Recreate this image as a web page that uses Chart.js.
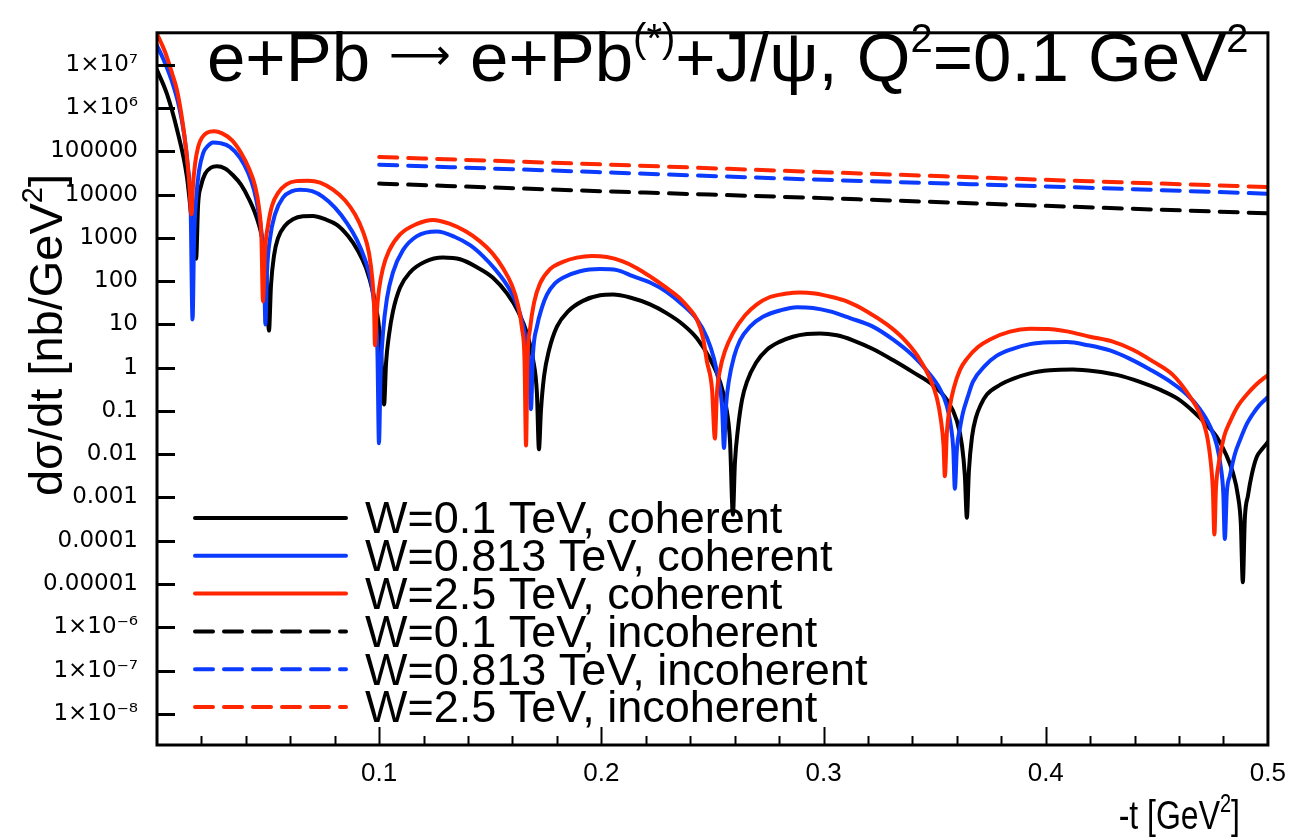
<!DOCTYPE html>
<html lang="en">
<head>
  <meta charset="UTF-8">
  <title>e+Pb → e+Pb(*)+J/ψ, Q2=0.1 GeV2</title>
  <script src="https://cdn.jsdelivr.net/npm/chart.js"></script>
  <style>
    html, body { margin: 0; padding: 0; background: #fff; }
    #wrap { width: 1299px; height: 840px; }
  </style>
</head>
<body>
<div id="wrap"><canvas id="plot"></canvas></div>
<script>
// -t [GeV^2] and dsigma/dt [nb/GeV^2]

// W = 0.1 TeV, coherent
const tBlackCoh = [0, 0.0045, 0.009, 0.0135, 0.0162, 0.0176, 0.0185, 0.0198, 0.0216, 0.0243,
  0.027, 0.0306, 0.0342, 0.0378, 0.0414, 0.0446, 0.0473, 0.0491, 0.0504, 0.0513,
  0.0527, 0.0545, 0.0576, 0.0612, 0.0657, 0.0702, 0.0756, 0.081, 0.086, 0.0905,
  0.0941, 0.0972, 0.0995, 0.1008, 0.1022, 0.1031, 0.1044, 0.1062, 0.1094, 0.1139,
  0.1206, 0.1287, 0.1364, 0.144, 0.1512, 0.1575, 0.1625, 0.1665, 0.1692, 0.171,
  0.1719, 0.1728, 0.1742, 0.1764, 0.18, 0.185, 0.1917, 0.1994, 0.2052, 0.2129,
  0.2219, 0.2295, 0.2367, 0.243, 0.2489, 0.2534, 0.2561, 0.2579, 0.2592, 0.2601,
  0.2615, 0.2633, 0.2655, 0.2696, 0.2745, 0.2804, 0.2862, 0.2925, 0.2984, 0.306,
  0.3132, 0.3222, 0.3312, 0.3402, 0.3492, 0.3555, 0.36, 0.3623, 0.3636, 0.3645,
  0.3654, 0.3668, 0.3686, 0.3708, 0.3735, 0.3794, 0.3852, 0.3929, 0.4019, 0.4122,
  0.4221, 0.432, 0.4424, 0.4514, 0.4595, 0.4662, 0.4721, 0.477, 0.4811, 0.4842,
  0.4865, 0.4878, 0.4887, 0.4896, 0.491, 0.4928, 0.495, 0.4973, 0.5];
const sigBlackCoh = [7.6e6, 2.1e6, 3.2e5, 2.5e4, 1.3e3, 330, 5.9e3, 1.6e4, 3.0e4, 4.2e4,
  4.5e4, 4.0e4, 2.8e4, 1.7e4, 7.9e3, 3.2e3, 1.0e3, 200, 7.2, 79,
  400, 1.0e3, 1.9e3, 2.7e3, 3.15e3, 3.2e3, 2.7e3, 2.0e3, 1.1e3, 500,
  200, 56, 13, 2.5, 0.14, 1.3, 5.6, 20, 71, 160,
  280, 350, 320, 210, 120, 52, 20, 6.3, 1.6, 0.25,
  0.013, 0.1, 0.63, 2.5, 8.9, 20, 35, 47, 49, 42,
  29, 18, 10, 4.8, 1.6, 0.47, 0.13, 0.02, 4e-4, 0.0063,
  0.04, 0.18, 0.47, 1.3, 2.6, 4.0, 5.2, 6.0, 6.2, 5.6,
  4.3, 2.7, 1.5, 0.79, 0.4, 0.18, 0.059, 0.016, 0.0032, 3.4e-4,
  0.004, 0.025, 0.071, 0.14, 0.24, 0.4, 0.55, 0.74, 0.87, 0.91,
  0.83, 0.68, 0.47, 0.31, 0.19, 0.1, 0.05, 0.025, 0.01, 0.0038,
  0.0011, 2.5e-4, 1.1e-5, 3.2e-4, 0.0011, 0.0035, 0.0087, 0.013, 0.019];

// W = 0.813 TeV, coherent
const tBlueCoh = [0, 0.0036, 0.0072, 0.0099, 0.0122, 0.014, 0.0151, 0.016, 0.0167, 0.0176,
  0.0189, 0.0207, 0.023, 0.0252, 0.0284, 0.0329, 0.0374, 0.041, 0.0437, 0.0459,
  0.0473, 0.0482, 0.0488, 0.0495, 0.0509, 0.0531, 0.0567, 0.0608, 0.0644, 0.0698,
  0.0747, 0.0801, 0.0855, 0.09, 0.0936, 0.0963, 0.0981, 0.0992, 0.0999, 0.1006,
  0.1017, 0.1035, 0.1062, 0.1107, 0.117, 0.126, 0.1341, 0.1409, 0.1467, 0.1521,
  0.1575, 0.1616, 0.1647, 0.1665, 0.1676, 0.1683, 0.1692, 0.171, 0.1733, 0.1755,
  0.1791, 0.1827, 0.1904, 0.1994, 0.207, 0.2142, 0.2219, 0.2295, 0.2367, 0.243,
  0.2475, 0.2507, 0.2529, 0.2543, 0.2552, 0.2561, 0.2574, 0.2597, 0.2624, 0.2669,
  0.2727, 0.2804, 0.288, 0.2952, 0.3029, 0.3119, 0.3222, 0.3312, 0.3402, 0.347,
  0.3524, 0.3555, 0.3573, 0.3584, 0.3591, 0.36, 0.3614, 0.3627, 0.365, 0.3672,
  0.3726, 0.378, 0.3848, 0.3929, 0.4019, 0.4095, 0.419, 0.4289, 0.4379, 0.4469,
  0.4559, 0.4635, 0.4694, 0.4739, 0.477, 0.4788, 0.4799, 0.4806, 0.4815, 0.4829,
  0.4851, 0.4874, 0.4905, 0.4932, 0.4964, 0.5];
const sigBlueCoh = [2.8e7, 1.1e7, 3.5e6, 1.1e6, 2.5e5, 4.0e4, 6.3e3, 13, 1.0e3, 7.9e3,
  3.5e4, 8.9e4, 1.35e5, 1.6e5, 1.55e5, 1.26e5, 7.1e4, 3.2e4, 1.26e4, 3.5e3,
  1.0e3, 200, 10, 160, 1.0e3, 3.5e3, 8.5e3, 1.2e4, 1.3e4, 1.2e4,
  8.9e3, 5.0e3, 2.2e3, 890, 320, 100, 20, 2.5, 0.018, 0.63,
  6.3, 40, 160, 520, 1.1e3, 1.4e3, 1.05e3, 680, 380, 190,
  81, 32, 10, 3.2, 1.0, 0.11, 2.0, 8.9, 25, 49,
  89, 120, 170, 190, 180, 130, 93, 56, 28, 13,
  5.0, 1.6, 0.45, 0.13, 0.014, 0.13, 0.5, 1.8, 4.3, 8.9,
  15, 21, 25, 24, 20, 14, 8.9, 4.5, 1.9, 0.79,
  0.32, 0.13, 0.045, 0.013, 0.0016, 0.013, 0.04, 0.089, 0.22, 0.47,
  1.1, 1.9, 2.7, 3.5, 3.85, 3.9, 3.3, 2.5, 1.6, 0.91,
  0.48, 0.24, 0.11, 0.045, 0.016, 0.005, 0.0013, 1.1e-4, 0.0013, 0.0032,
  0.01, 0.021, 0.05, 0.085, 0.14, 0.21];

// W = 2.5 TeV, coherent
const tRedCoh = [0, 0.0036, 0.0068, 0.009, 0.0113, 0.0131, 0.0144, 0.0155, 0.0162, 0.0171,
  0.0185, 0.0203, 0.0225, 0.0257, 0.0293, 0.0338, 0.0378, 0.0414, 0.0441, 0.0459,
  0.047, 0.0477, 0.0486, 0.05, 0.0518, 0.0545, 0.0581, 0.0626, 0.068, 0.0734,
  0.0792, 0.0846, 0.0891, 0.0927, 0.0954, 0.097, 0.0977, 0.0981, 0.0988, 0.0999,
  0.1017, 0.1044, 0.1094, 0.117, 0.1242, 0.1319, 0.1391, 0.1454, 0.1508, 0.1557,
  0.1598, 0.1625, 0.1643, 0.1654, 0.1661, 0.1667, 0.1679, 0.1697, 0.1724, 0.1769,
  0.1827, 0.189, 0.1958, 0.2025, 0.2093, 0.216, 0.2228, 0.2295, 0.2354, 0.2399,
  0.243, 0.2457, 0.2475, 0.2498, 0.2511, 0.252, 0.2534, 0.2556, 0.2592, 0.2646,
  0.27, 0.2759, 0.2826, 0.2894, 0.2961, 0.3038, 0.3105, 0.3195, 0.3285, 0.3357,
  0.3425, 0.3479, 0.351, 0.3528, 0.354, 0.3546, 0.3555, 0.3569, 0.3587, 0.3614,
  0.3645, 0.3695, 0.3749, 0.3839, 0.3929, 0.401, 0.4095, 0.4199, 0.4302, 0.4392,
  0.4482, 0.4572, 0.464, 0.4694, 0.4725, 0.4743, 0.4752, 0.4759, 0.4766, 0.4779,
  0.4802, 0.4829, 0.4865, 0.4905, 0.495, 0.5];
const sigRedCoh = [5.2e7, 2.0e7, 6.3e6, 2.6e6, 5.6e5, 1.1e5, 2.2e4, 3.5e3, 1.6e4, 5.0e4,
  1.26e5, 2.1e5, 2.7e5, 2.9e5, 2.6e5, 1.8e5, 9.3e4, 4.0e4, 1.6e4, 5.0e3,
  1.0e3, 34, 500, 2.0e3, 5.6e3, 1.1e4, 1.7e4, 2.05e4, 2.1e4, 1.9e4,
  1.3e4, 7.4e3, 3.5e3, 1.4e3, 450, 100, 25, 3.3, 16, 63,
  200, 500, 1.2e3, 2.1e3, 2.6e3, 2.1e3, 1.4e3, 830, 450, 200,
  79, 28, 7.9, 1.6, 0.016, 1.3, 7.9, 32, 89, 190,
  280, 350, 380, 360, 290, 200, 120, 69, 40, 22,
  13, 5.0, 1.4, 0.32, 0.023, 0.25, 0.89, 2.4, 6.3, 16,
  29, 43, 51, 55, 52, 43, 34, 20, 10, 4.8,
  1.8, 0.56, 0.2, 0.063, 0.016, 0.0031, 0.032, 0.13, 0.35, 0.89,
  1.6, 3.0, 4.5, 6.8, 7.9, 7.8, 6.9, 5.2, 4.0, 2.6,
  1.4, 0.68, 0.25, 0.085, 0.028, 0.0063, 0.0016, 1.4e-4, 0.0016, 0.0063,
  0.025, 0.056, 0.13, 0.24, 0.42, 0.68];

// incoherent curves
const tIncoh = [0.1, 0.2, 0.3, 0.4, 0.5];
const sigBlackIncoh = [1.8e4, 1.2e4, 8.3e3, 5.5e3, 3.7e3];
const sigBlueIncoh = [4.9e4, 3.3e4, 2.2e4, 1.55e4, 1.05e4];
const sigRedIncoh = [7.4e4, 5.0e4, 3.3e4, 2.2e4, 1.5e4];

const seriesLabels = [
  'W=0.1 TeV, coherent', 'W=0.813 TeV, coherent', 'W=2.5 TeV, coherent',
  'W=0.1 TeV, incoherent', 'W=0.813 TeV, incoherent', 'W=2.5 TeV, incoherent'
];

const xTickValues = [0.1, 0.2, 0.3, 0.4, 0.5];
const xTickLabels = ['0.1', '0.2', '0.3', '0.4', '0.5'];
const yTickValues = [1e-8, 1e-7, 1e-6, 1e-5, 1e-4, 1e-3, 1e-2, 1e-1, 1, 10, 100, 1000, 1e4, 1e5, 1e6, 1e7];
const yTickLabels = ['1×10⁻⁸', '1×10⁻⁷', '1×10⁻⁶', '0.00001', '0.0001', '0.001', '0.01', '0.1',
  '1', '10', '100', '1000', '10000', '100000', '1×10⁶', '1×10⁷'];

const BLACK = '#000000';
const BLUE = '#0b3bff';
const RED = '#ff2600';
const SANS = "'Liberation Sans', Arial, Helvetica, 'DejaVu Sans', sans-serif";
const NARROW = "'Liberation Sans Narrow', 'Liberation Sans', Arial, sans-serif";

function pts(ts, vs) {
  return ts.map((t, i) => ({ x: t, y: vs[i] }));
}

function curve(label, ts, vs, color, dashed, order) {
  return {
    label: label,
    data: pts(ts, vs),
    borderColor: color,
    backgroundColor: color,
    borderWidth: 4,
    borderDash: dashed ? [18, 11] : [],
    borderCapStyle: 'round',
    borderJoinStyle: 'round',
    pointRadius: 0,
    fill: false,
    cubicInterpolationMode: 'monotone',
    order: order
  };
}

// draws text made of pieces; a piece may be superscript or have its own size/rise
function partStyle(p, size, supScale, supRise) {
  if (p.sup) return { s: Math.round(size * supScale), r: size * supRise };
  if (p.k) return { s: Math.round(size * p.k), r: size * (p.r || 0) };
  return { s: size, r: 0 };
}
function richText(ctx, parts, x, y, size, family, supScale, supRise) {
  let cx = x;
  parts.forEach(p => {
    const st = partStyle(p, size, supScale, supRise);
    ctx.font = st.s + 'px ' + family;
    ctx.fillText(p.t, cx, y - st.r);
    cx += ctx.measureText(p.t).width;
  });
  return cx - x;
}
function richWidth(ctx, parts, size, family, supScale) {
  let w = 0;
  parts.forEach(p => {
    ctx.font = partStyle(p, size, supScale, 0).s + 'px ' + family;
    w += ctx.measureText(p.t).width;
  });
  return w;
}

const decorations = {
  id: 'decorations',
  afterDraw(chart) {
    const { ctx, chartArea: a, scales: { x, y } } = chart;
    ctx.save();
    ctx.strokeStyle = '#000';
    ctx.fillStyle = '#000';
    ctx.lineCap = 'butt';

    // frame
    ctx.lineWidth = 3;
    ctx.strokeRect(a.left, a.top, a.right - a.left, a.bottom - a.top);

    // y ticks (inside)
    ctx.lineWidth = 3;
    yTickValues.forEach(v => {
      const py = Math.round(y.getPixelForValue(v)) + 0.5;
      ctx.beginPath();
      ctx.moveTo(a.left, py);
      ctx.lineTo(a.left + 18, py);
      ctx.stroke();
    });

    // x ticks (inside), minor every 0.02
    ctx.lineWidth = 2;
    for (let i = 1; i < 25; i++) {
      const px = Math.round(x.getPixelForValue(i * 0.02)) + 0.5;
      const len = i % 5 === 0 ? 18 : 9;
      ctx.beginPath();
      ctx.moveTo(px, a.bottom);
      ctx.lineTo(px, a.bottom - len);
      ctx.stroke();
    }

    // title
    ctx.textAlign = 'left';
    ctx.textBaseline = 'alphabetic';
    richText(ctx, [
      { t: 'e+Pb ' }, { t: '⟶', k: 0.62, r: 0.17 }, { t: ' e+Pb' }, { t: '(*)', sup: true },
      { t: '+J/ψ, Q' }, { t: '2', sup: true }, { t: '=0.1 GeV' }, { t: '2', sup: true }
    ], 207, 81, 69, SANS, 0.58, 0.42);

    // x axis title, right aligned
    const xt = [{ t: '-t [GeV' }, { t: '2', sup: true }, { t: ']' }];
    ctx.save();
    ctx.translate(1240, 829);
    ctx.scale(0.8, 1);
    const w = richWidth(ctx, xt, 40, SANS, 0.62);
    richText(ctx, xt, -w, 0, 40, SANS, 0.62, 0.42);
    ctx.restore();

    // y axis title, rotated
    const yt = [{ t: 'dσ/dt [nb/GeV' }, { t: '2', sup: true }, { t: ']' }];
    ctx.save();
    ctx.translate(62, 335);
    ctx.rotate(-Math.PI / 2);
    const wy = richWidth(ctx, yt, 47, SANS, 0.62);
    richText(ctx, yt, -wy / 2, 0, 47, SANS, 0.62, 0.42);
    ctx.restore();

    // legend inside the plot
    ctx.font = '45px ' + SANS;
    ctx.textBaseline = 'middle';
    chart.data.datasets.forEach((ds, i) => {
      const ly = 518 + i * 37.8;
      ctx.save();
      ctx.strokeStyle = ds.borderColor;
      ctx.lineWidth = 4;
      ctx.lineCap = 'round';
      ctx.setLineDash(ds.borderDash);
      ctx.beginPath();
      ctx.moveTo(195, ly);
      ctx.lineTo(346, ly);
      ctx.stroke();
      ctx.restore();
      ctx.fillText(ds.label, 365, ly + 3);
    });
    ctx.restore();
  }
};

const chart = new Chart(document.getElementById('plot').getContext('2d'), {
  type: 'line',
  data: {
    datasets: [
      curve(seriesLabels[0], tBlackCoh, sigBlackCoh, BLACK, false, 3),
      curve(seriesLabels[1], tBlueCoh, sigBlueCoh, BLUE, false, 2),
      curve(seriesLabels[2], tRedCoh, sigRedCoh, RED, false, 1),
      curve(seriesLabels[3], tIncoh, sigBlackIncoh, BLACK, true, 6),
      curve(seriesLabels[4], tIncoh, sigBlueIncoh, BLUE, true, 5),
      curve(seriesLabels[5], tIncoh, sigRedIncoh, RED, true, 4)
    ]
  },
  options: {
    responsive: true,
    maintainAspectRatio: false,
    animation: false,
    devicePixelRatio: 1,
    layout: { padding: { left: 0, top: 10, right: 31, bottom: 0 } },
    plugins: {
      legend: { display: false },
      tooltip: { enabled: false }
    },
    scales: {
      x: {
        type: 'linear',
        min: 0,
        max: 0.5,
        grid: { display: false, drawTicks: false },
        border: { display: false },
        afterBuildTicks: s => { s.ticks = xTickValues.map(v => ({ value: v })); },
        afterFit: s => { s.height = 95; },
        ticks: {
          autoSkip: false,
          maxRotation: 0,
          padding: 13,
          color: '#000',
          font: { family: NARROW, size: 26 },
          callback: (v, i) => xTickLabels[i]
        }
      },
      y: {
        type: 'logarithmic',
        min: 1.9e-9,
        max: 5.5e7,
        grid: { display: false, drawTicks: false },
        border: { display: false },
        afterBuildTicks: s => { s.ticks = yTickValues.map(v => ({ value: v })); },
        afterFit: s => { s.width = 157; },
        ticks: {
          autoSkip: false,
          padding: 19,
          color: '#000',
          font: { family: "'DejaVu Sans', Verdana, sans-serif", size: 23 },
          callback: (v, i) => yTickLabels[i]
        }
      }
    }
  },
  plugins: [decorations]
});
</script>
</body>
</html>
